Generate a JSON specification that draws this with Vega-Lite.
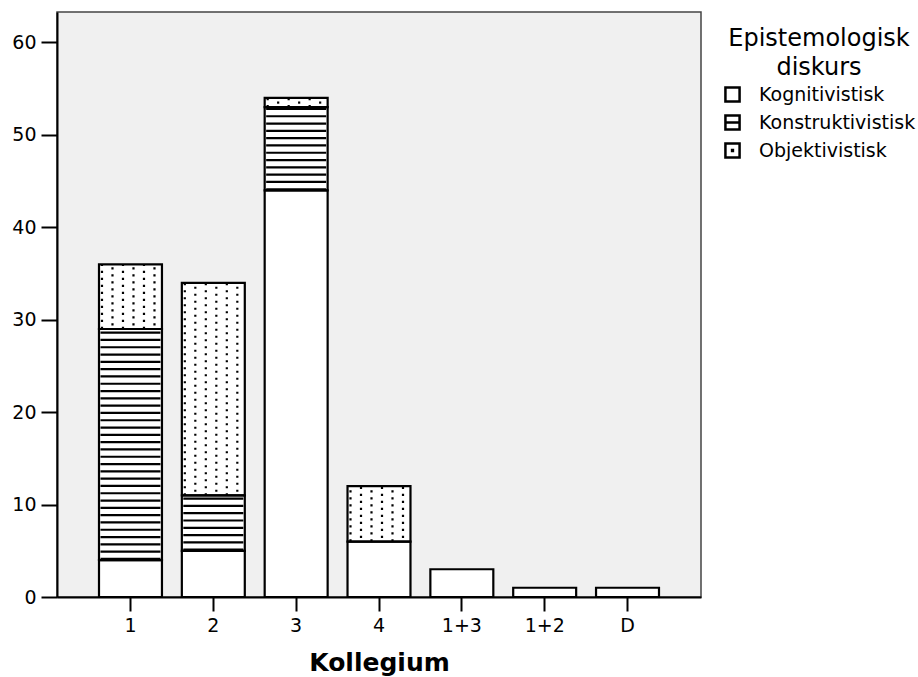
{
  "$schema": "https://vega.github.io/schema/vega-lite/v6.json",
  "autosize": {"type": "none"},
  "padding": {"left": 57, "top": 12, "right": 217, "bottom": 80},
  "width": 644,
  "height": 585,
  "background": "white",
  "config": {
    "font": "DejaVu Sans",
    "view": {"fill": "#f0f0f0", "stroke": "#444444", "strokeWidth": 1.5},
    "axis": {"labelColor": "black", "titleColor": "black", "domainColor": "black", "tickColor": "black", "labelFont": "DejaVu Sans", "titleFont": "DejaVu Sans"}
  },
  "data": {
    "values": [
      {"Kollegium": "1", "Diskurs": "Kognitivistisk", "n": 4},
      {"Kollegium": "1", "Diskurs": "Konstruktivistisk", "n": 25},
      {"Kollegium": "1", "Diskurs": "Objektivistisk", "n": 7},
      {"Kollegium": "2", "Diskurs": "Kognitivistisk", "n": 5},
      {"Kollegium": "2", "Diskurs": "Konstruktivistisk", "n": 6},
      {"Kollegium": "2", "Diskurs": "Objektivistisk", "n": 23},
      {"Kollegium": "3", "Diskurs": "Kognitivistisk", "n": 44},
      {"Kollegium": "3", "Diskurs": "Konstruktivistisk", "n": 9},
      {"Kollegium": "3", "Diskurs": "Objektivistisk", "n": 1},
      {"Kollegium": "4", "Diskurs": "Kognitivistisk", "n": 6},
      {"Kollegium": "4", "Diskurs": "Objektivistisk", "n": 6},
      {"Kollegium": "1+3", "Diskurs": "Kognitivistisk", "n": 3},
      {"Kollegium": "1+2", "Diskurs": "Kognitivistisk", "n": 1},
      {"Kollegium": "D", "Diskurs": "Kognitivistisk", "n": 1}
    ]
  },
  "transform": [
    {"stack": "n", "groupby": ["Kollegium"], "sort": [{"field": "Diskurs", "order": "ascending"}], "as": ["y0", "y1"]}
  ],
  "encoding": {
    "x": {
      "field": "Kollegium", "type": "nominal",
      "sort": ["1", "2", "3", "4", "1+3", "1+2", "D"],
      "scale": {"paddingInner": 0.24, "paddingOuter": 0.507},
      "axis": {
        "labelAngle": 0, "labelFontSize": 19, "labelPadding": 5,
        "tickSize": 14, "tickWidth": 2, "domainWidth": 2,
        "title": "Kollegium", "titleFontSize": 25, "titleFontWeight": "bold", "titlePadding": 15
      }
    },
    "y": {
      "field": "y0", "type": "quantitative",
      "scale": {"domain": [0, 63.3], "nice": false, "zero": true},
      "axis": {
        "values": [0, 10, 20, 30, 40, 50, 60], "title": null, "grid": false,
        "labelFontSize": 19, "labelPadding": 5, "tickSize": 16, "tickWidth": 2, "domainWidth": 2
      }
    },
    "y2": {"field": "y1"}
  },
  "layer": [
    {
      "mark": {"type": "bar", "strokeWidth": 0},
      "encoding": {
        "fill": {
          "field": "Diskurs", "type": "nominal",
          "scale": {"domain": ["Kognitivistisk", "Konstruktivistisk", "Objektivistisk"], "range": ["white", "white", "white"]},
          "legend": {
            "orient": "none", "legendX": 666, "legendY": 15, "padding": 0,
            "title": ["Epistemologisk", "diskurs"],
            "titleFontSize": 24, "titleFontWeight": "normal", "titleColor": "black", "titleFont": "DejaVu Sans", "titleLimit": 400,
            "titleAlign": "center", "titleAnchor": "middle", "titleLineHeight": 29, "titlePadding": 5,
            "labelFontSize": 19, "labelColor": "black", "labelFont": "DejaVu Sans", "labelLimit": 300, "labelOffset": 17,
            "symbolSize": 200, "symbolStrokeWidth": 2.5, "symbolStrokeColor": "black", "symbolFillColor": "white",
            "rowPadding": 3,
            "encode": {
              "symbols": {
                "update": {
                  "shape": {"signal": "datum.value == 'Konstruktivistisk' ? 'M-1,-1H1V1H-1ZM-1,0H1' : (datum.value == 'Objektivistisk' ? 'M-1,-1H1V1H-1ZM-0.06,-0.06H0.06V0.06H-0.06Z' : 'M-1,-1H1V1H-1Z')"},
                  "stroke": {"value": "black"},
                  "strokeWidth": {"value": 2.5},
                  "fill": {"value": "white"}
                }
              }
            }
          }
        }
      }
    },
    {
      "transform": [{"filter": "datum.Diskurs == 'Konstruktivistisk'"}],
      "mark": {"type": "rule", "color": "black", "strokeWidth": 60, "strokeDash": [2.2, 5.1], "strokeCap": "butt"}
    },
    {
      "transform": [{"filter": "datum.Diskurs == 'Objektivistisk'"}],
      "mark": {"type": "rule", "color": "black", "strokeWidth": 2.2, "strokeDash": [2.2, 4.8], "strokeDashOffset": 0, "xOffset": -28.5, "strokeCap": "butt"}
    },
    {
      "transform": [{"filter": "datum.Diskurs == 'Objektivistisk'"}],
      "mark": {"type": "rule", "color": "black", "strokeWidth": 2.2, "strokeDash": [2.2, 4.8], "strokeDashOffset": 3.5, "xOffset": -18, "strokeCap": "butt"}
    },
    {
      "transform": [{"filter": "datum.Diskurs == 'Objektivistisk'"}],
      "mark": {"type": "rule", "color": "black", "strokeWidth": 2.2, "strokeDash": [2.2, 4.8], "strokeDashOffset": 0, "xOffset": -7.5, "strokeCap": "butt"}
    },
    {
      "transform": [{"filter": "datum.Diskurs == 'Objektivistisk'"}],
      "mark": {"type": "rule", "color": "black", "strokeWidth": 2.2, "strokeDash": [2.2, 4.8], "strokeDashOffset": 3.5, "xOffset": 3, "strokeCap": "butt"}
    },
    {
      "transform": [{"filter": "datum.Diskurs == 'Objektivistisk'"}],
      "mark": {"type": "rule", "color": "black", "strokeWidth": 2.2, "strokeDash": [2.2, 4.8], "strokeDashOffset": 0, "xOffset": 13.5, "strokeCap": "butt"}
    },
    {
      "transform": [{"filter": "datum.Diskurs == 'Objektivistisk'"}],
      "mark": {"type": "rule", "color": "black", "strokeWidth": 2.2, "strokeDash": [2.2, 4.8], "strokeDashOffset": 3.5, "xOffset": 24, "strokeCap": "butt"}
    },
    {
      "mark": {"type": "bar", "fill": "transparent", "stroke": "black", "strokeWidth": 2.2}
    }
  ]
}
